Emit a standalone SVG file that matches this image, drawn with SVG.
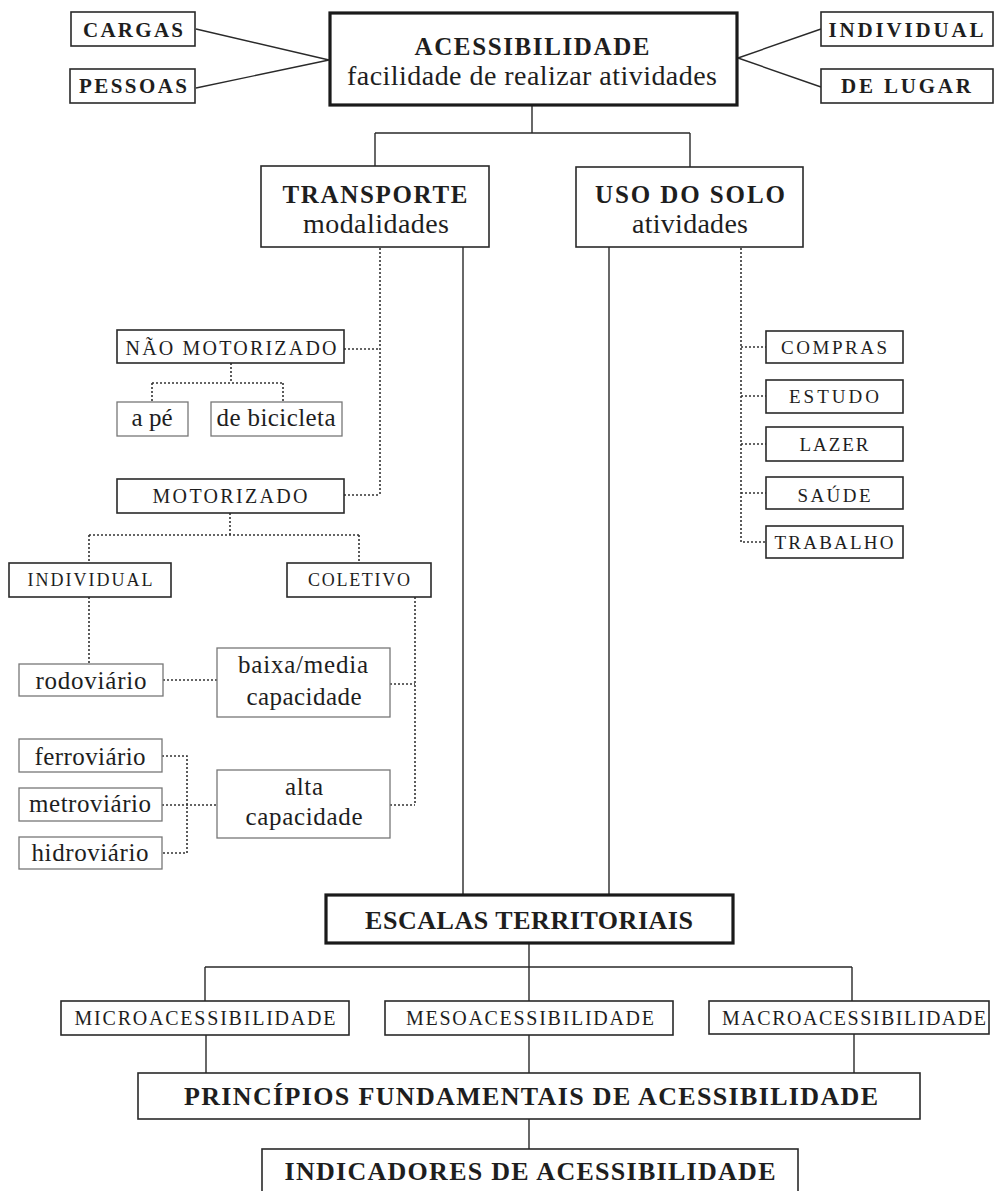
<svg xmlns="http://www.w3.org/2000/svg" width="994" height="1191" viewBox="0 0 994 1191">
<style>
  text { font-family: "Liberation Serif", "Times New Roman", serif; fill: #1e1e1e; text-anchor: middle; }
  .b { font-weight: bold; }
  .box { fill: #fff; stroke: #2a2a2a; stroke-width: 1.6; }
  .thick { fill: #fff; stroke: #1a1a1a; stroke-width: 3.2; }
  .light { fill: #fff; stroke: #777; stroke-width: 1.3; }
  .solid { fill: none; stroke: #2a2a2a; stroke-width: 1.4; }
  .dot { fill: none; stroke: #333; stroke-width: 1.6; stroke-dasharray: 2 2; }
  .capS { font-size: 21px; }
  .capL { font-size: 25px; }
  .capE { font-size: 26px; }
  .cap20 { font-size: 20px; }
  .cap18 { font-size: 18px; }
  .cap19 { font-size: 19px; }
  .low28 { font-size: 28px; }
  .low25 { font-size: 25px; }
</style>
<rect width="994" height="1191" fill="#fff"/>
<g id="connectors">
  <path class="solid" d="M196,29 L329,60 M196,88 L329,60 M738,58 L821,29 M738,58 L821,87"/>
  <path class="solid" d="M532,106 V133 M375,133 H690 M375,133 V166 M690,133 V167"/>
  <path class="solid" d="M463,247 V895 M609,247 V895"/>
  <path class="solid" d="M529,943 V967 M205,967 H852 M205,967 V1001 M529,967 V1001 M852,967 V1001"/>
  <path class="solid" d="M206,1035 V1073 M529,1035 V1073 M854,1034 V1073 M529,1119 V1149"/>
  <path class="dot" d="M380,248 V495 M344,349 H380 M344,495 H380"/>
  <path class="dot" d="M231,363 V383 M152,383 H283 M152,383 V402 M283,383 V402"/>
  <path class="dot" d="M230,513 V535 M89,535 H359 M89,535 V563 M359,535 V563"/>
  <path class="dot" d="M89,597 V664 M163,680 H217"/>
  <path class="dot" d="M415,597 V805 M390,684 H415 M390,805 H415"/>
  <path class="dot" d="M162,756 H187 V853 H162 M162,805 H217"/>
  <path class="dot" d="M741,248 V542 H766 M741,347 H766 M741,396 H766 M741,444 H766 M741,493 H766"/>
</g>
<g id="n-cargas"><rect class="box" x="71" y="12" width="124" height="34"/><text class="b capS" x="133" y="37" textLength="100">CARGAS</text></g>
<g id="n-pessoas"><rect class="box" x="70" y="69" width="125" height="34"/><text class="b capS" x="133" y="93" textLength="108">PESSOAS</text></g>
<g id="n-acessibilidade"><rect class="thick" x="330" y="13" width="407" height="92"/>
  <text class="b capL" x="532" y="55" textLength="235">ACESSIBILIDADE</text>
  <text class="low28" x="532" y="85" textLength="370">facilidade de realizar atividades</text></g>
<g id="n-individual-top"><rect class="box" x="821" y="12" width="172" height="34"/><text class="b capS" x="906" y="37" textLength="155">INDIVIDUAL</text></g>
<g id="n-delugar"><rect class="box" x="821" y="69" width="172" height="34"/><text class="b capS" x="906" y="93" textLength="130">DE LUGAR</text></g>
<g id="n-transporte"><rect class="box" x="261" y="166" width="228" height="81"/>
  <text class="b capL" x="375" y="203" textLength="185">TRANSPORTE</text>
  <text class="low28" x="376" y="233" textLength="146">modalidades</text></g>
<g id="n-usodosolo"><rect class="box" x="576" y="167" width="227" height="80"/>
  <text class="b capL" x="690" y="203" textLength="190">USO DO SOLO</text>
  <text class="low28" x="690" y="233" textLength="116">atividades</text></g>
<g id="n-naomotorizado"><rect class="box" x="117" y="330" width="227" height="33"/><text class="cap20" x="231" y="355" textLength="211">NÃO MOTORIZADO</text></g>
<g id="n-ape"><rect class="light" x="117" y="402" width="71" height="34"/><text class="low25" x="152" y="426" textLength="41">a pé</text></g>
<g id="n-bicicleta"><rect class="light" x="211" y="402" width="131" height="34"/><text class="low25" x="276" y="426" textLength="119">de bicicleta</text></g>
<g id="n-motorizado"><rect class="box" x="117" y="479" width="227" height="34"/><text class="cap20" x="230" y="503" textLength="155">MOTORIZADO</text></g>
<g id="n-individual"><rect class="box" x="9" y="563" width="162" height="34"/><text class="cap18" x="90" y="586" textLength="125">INDIVIDUAL</text></g>
<g id="n-coletivo"><rect class="box" x="287" y="563" width="144" height="34"/><text class="cap18" x="359" y="586" textLength="102">COLETIVO</text></g>
<g id="n-rodoviario"><rect class="light" x="19" y="664" width="144" height="32"/><text class="low25" x="91" y="689" textLength="111">rodoviário</text></g>
<g id="n-baixamedia"><rect class="light" x="217" y="648" width="173" height="69"/>
  <text class="low25" x="303" y="673" textLength="130">baixa/media</text>
  <text class="low25" x="304" y="705" textLength="115">capacidade</text></g>
<g id="n-alta"><rect class="light" x="217" y="770" width="173" height="68"/>
  <text class="low25" x="304" y="795" textLength="38">alta</text>
  <text class="low25" x="304" y="825" textLength="117">capacidade</text></g>
<g id="n-ferroviario"><rect class="light" x="19" y="739" width="143" height="33"/><text class="low25" x="90" y="765" textLength="111">ferroviário</text></g>
<g id="n-metroviario"><rect class="light" x="19" y="788" width="143" height="33"/><text class="low25" x="90" y="812" textLength="122">metroviário</text></g>
<g id="n-hidroviario"><rect class="light" x="19" y="837" width="143" height="32"/><text class="low25" x="90" y="861" textLength="117">hidroviário</text></g>
<g id="n-compras"><rect class="box" x="766" y="331" width="137" height="32"/><text class="cap19" x="834" y="354" textLength="106">COMPRAS</text></g>
<g id="n-estudo"><rect class="box" x="766" y="380" width="137" height="33"/><text class="cap19" x="834" y="403" textLength="90">ESTUDO</text></g>
<g id="n-lazer"><rect class="box" x="766" y="427" width="137" height="34"/><text class="cap19" x="834" y="451" textLength="69">LAZER</text></g>
<g id="n-saude"><rect class="box" x="766" y="477" width="137" height="32"/><text class="cap19" x="834" y="502" textLength="73">SAÚDE</text></g>
<g id="n-trabalho"><rect class="box" x="766" y="526" width="137" height="32"/><text class="cap19" x="834" y="549" textLength="119">TRABALHO</text></g>
<g id="n-escalas"><rect class="thick" x="326" y="895" width="407" height="48"/><text class="b capE" x="529" y="929" textLength="328">ESCALAS TERRITORIAIS</text></g>
<g id="n-micro"><rect class="box" x="61" y="1001" width="288" height="34"/><text class="cap20" x="205" y="1025" textLength="261">MICROACESSIBILIDADE</text></g>
<g id="n-meso"><rect class="box" x="385" y="1001" width="288" height="34"/><text class="cap20" x="530" y="1025" textLength="248">MESOACESSIBILIDADE</text></g>
<g id="n-macro"><rect class="box" x="709" y="1001" width="280" height="33"/><text class="cap20" x="854" y="1025" textLength="264">MACROACESSIBILIDADE</text></g>
<g id="n-principios"><rect class="box" x="138" y="1073" width="782" height="46"/><text class="b capE" x="531" y="1105" textLength="694">PRINCÍPIOS FUNDAMENTAIS DE ACESSIBILIDADE</text></g>
<g id="n-indicadores"><rect class="box" x="262" y="1149" width="536" height="60"/><text class="b capE" x="530" y="1180" textLength="491">INDICADORES DE ACESSIBILIDADE</text></g>
</svg>
